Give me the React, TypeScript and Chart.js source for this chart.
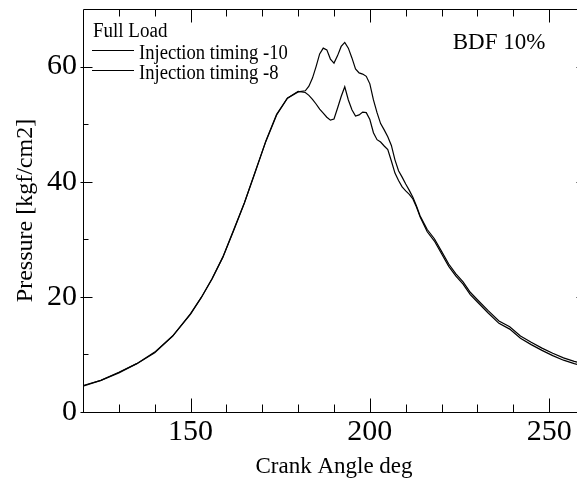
import React, { useEffect, useRef } from "react";
import { Chart, registerables } from "chart.js";

Chart.register(...registerables);

// ---- data ----
const crankAngle = [
  120, 125, 130, 135, 140, 145, 150, 153, 156, 159, 162, 165, 168, 171, 174, 177, 180,
  182, 183, 184, 185, 186, 187, 188, 189, 190, 191, 192, 193, 194, 195, 196, 197, 198, 199,
  200, 201, 202, 203, 204, 205, 206, 207, 208, 209, 210, 211, 212, 213, 214,
  216, 218, 220, 222, 224, 226, 228, 230,
  233, 236, 239, 242, 245, 248, 251, 254, 257, 260,
];

const pressureTimingMinus10 = [
  4.6, 5.5, 6.9, 8.4, 10.4, 13.2, 17.1, 19.9, 23.1, 26.9, 31.6, 36.3, 41.6, 47.1, 51.7, 54.5, 55.6,
  55.8, 56.6, 58.0, 60.0, 62.2, 63.2, 62.9, 61.3, 60.6, 61.9, 63.5, 64.2, 63.2, 61.5, 59.6, 58.9, 58.7, 58.3,
  57.0, 54.2, 52.0, 50.1, 49.0, 47.8, 46.3, 43.8, 41.9, 40.8, 39.6, 38.5, 37.3, 35.8, 34.1,
  31.7, 30.1, 27.9, 25.7, 24.0, 22.6, 20.8, 19.5,
  17.6, 15.8, 14.8, 13.2, 12.1, 11.1, 10.2, 9.4, 8.8, 8.3,
];

const pressureTimingMinus8 = [
  4.5, 5.5, 6.8, 8.4, 10.3, 13.2, 17.0, 19.9, 23.2, 26.9, 31.5, 36.3, 41.7, 47.0, 51.6, 54.5, 55.7,
  55.5, 55.0, 54.3, 53.5, 52.6, 51.9, 51.2, 50.7, 50.9, 52.8, 54.8, 56.5, 54.2, 52.5, 51.4, 51.6, 52.1, 52.0,
  50.8, 48.5, 47.3, 46.9, 46.2, 45.6, 43.6, 41.5, 40.2, 39.1, 38.4, 37.8, 37.0, 35.6, 33.9,
  31.3, 29.7, 27.5, 25.3, 23.6, 22.2, 20.4, 19.1,
  17.2, 15.4, 14.4, 12.8, 11.7, 10.7, 9.8, 9.0, 8.4, 7.9,
];

const seriesLabels = ["Injection timing -10", "Injection timing -8"];
const legendTitle = "Full Load";
const annotationText = "BDF 10%";
const xTitle = "Crank Angle deg";
const yTitle = "Pressure [kgf/cm2]";

const xRange = [120, 260];
const yRange = [0, 70];
const xMajorTicks = [150, 200, 250];
const xMinorTicks = [130, 140, 160, 170, 180, 190, 210, 220, 230, 240];
const yMajorTicks = [0, 20, 40, 60];
const yMinorTicks = [10, 30, 50];

const SERIF = '"Liberation Serif", "Times New Roman", Times, serif';

const framePlugin = {
  id: "frameTicksLegend",
  afterDatasetsDraw(chart: any) {
    const { ctx, chartArea: a, scales } = chart;
    const xs = scales.x;
    const ys = scales.y;
    const L = Math.round(a.left) + 0.5;
    const R = Math.round(a.right) + 0.5;
    const T = Math.round(a.top) + 0.5;
    const B = Math.round(a.bottom) + 0.5;
    ctx.save();
    ctx.strokeStyle = "#000";
    ctx.lineWidth = 1;
    ctx.beginPath();
    ctx.rect(L, T, R - L, B - T);
    ctx.stroke();

    ctx.beginPath();
    const xTick = (v: number, lenB: number, lenT: number) => {
      const px = Math.round(xs.getPixelForValue(v)) + 0.5;
      ctx.moveTo(px, B);
      ctx.lineTo(px, B - lenB);
      ctx.moveTo(px, T);
      ctx.lineTo(px, T + lenT);
    };
    xMajorTicks.forEach((v) => xTick(v, 14, 13));
    xMinorTicks.forEach((v) => xTick(v, 8, 7));
    const yTick = (v: number, out: number, len: number) => {
      const py = Math.round(ys.getPixelForValue(v)) + 0.5;
      ctx.moveTo(L - out, py);
      ctx.lineTo(L + len, py);
      ctx.moveTo(R - len, py);
      ctx.lineTo(R, py);
    };
    yMajorTicks.forEach((v) => yTick(v, 3, 9));
    yMinorTicks.forEach((v) => yTick(v, 0, 5));
    ctx.stroke();

    const narrowText = (text: string, x: number, y: number, sx: number) => {
      ctx.save();
      ctx.translate(x, y);
      ctx.scale(sx, 1);
      ctx.fillText(text, 0, 0);
      ctx.restore();
    };

    // legend
    const ds = chart.data.datasets;
    ctx.fillStyle = "#000";
    ctx.textAlign = "left";
    ctx.textBaseline = "alphabetic";
    ctx.font = `20px ${SERIF}`;
    narrowText(legendTitle, a.left + 10, 37, 0.95);
    const rows = [50.5, 70.5];
    ds.forEach((d: any, i: number) => {
      ctx.beginPath();
      ctx.strokeStyle = d.borderColor;
      ctx.lineWidth = d.borderWidth;
      ctx.moveTo(a.left + 9, rows[i]);
      ctx.lineTo(a.left + 51, rows[i]);
      ctx.stroke();
      narrowText(d.label, a.left + 56, rows[i] + 8, 0.93);
    });

    // annotation
    ctx.font = `23px ${SERIF}`;
    ctx.textAlign = "center";
    ctx.fillText(annotationText, 499, 49);
    ctx.restore();
  },
};

export default function App() {
  const ref = useRef<HTMLCanvasElement | null>(null);

  useEffect(() => {
    if (!ref.current) return;
    const mk = (ys: number[]) => crankAngle.map((x, i) => ({ x, y: ys[i] }));
    const chart = new Chart(ref.current, {
      type: "line",
      data: {
        datasets: [
          {
            label: seriesLabels[0],
            data: mk(pressureTimingMinus10),
            borderColor: "#000",
            borderWidth: 1.2,
            pointRadius: 0,
            tension: 0,
            fill: false,
          },
          {
            label: seriesLabels[1],
            data: mk(pressureTimingMinus8),
            borderColor: "#000",
            borderWidth: 1.2,
            pointRadius: 0,
            tension: 0,
            fill: false,
          },
        ],
      },
      options: {
        responsive: false,
        animation: false,
        devicePixelRatio: 1,
        layout: { padding: { top: 9, right: 15, left: 0, bottom: 0 } },
        plugins: { legend: { display: false }, tooltip: { enabled: false } },
        scales: {
          x: {
            type: "linear",
            min: xRange[0],
            max: xRange[1],
            grid: { display: false, drawTicks: false },
            border: { display: false },
            afterBuildTicks: (s: any) => {
              s.ticks = xMajorTicks.map((value) => ({ value }));
            },
            afterFit: (s: any) => {
              s.height = 71;
              s.paddingLeft = 0;
              s.paddingRight = 0;
            },
            ticks: {
              autoSkip: false,
              maxRotation: 0,
              padding: 2,
              color: "#000",
              font: { family: SERIF, size: 30 },
            },
            title: {
              display: true,
              text: xTitle,
              color: "#000",
              font: { family: SERIF, size: 23 },
              padding: { top: 0, bottom: 2 },
            },
          },
          y: {
            type: "linear",
            min: yRange[0],
            max: yRange[1],
            grid: { display: false, drawTicks: false },
            border: { display: false },
            afterBuildTicks: (s: any) => {
              s.ticks = yMajorTicks.map((value) => ({ value }));
            },
            afterFit: (s: any) => {
              s.width = 83;
              s.paddingTop = 0;
              s.paddingBottom = 0;
            },
            ticks: {
              autoSkip: false,
              padding: 6,
              color: "#000",
              font: { family: SERIF, size: 30 },
            },
            title: {
              display: true,
              text: yTitle,
              color: "#000",
              font: { family: SERIF, size: 24 },
              padding: { top: 11, bottom: 0 },
            },
          },
        },
      },
      plugins: [framePlugin],
    });
    return () => chart.destroy();
  }, []);

  return (
    <div
      style={{
        position: "fixed",
        left: 0,
        top: 0,
        width: 577,
        height: 483,
        overflow: "hidden",
        background: "#fff",
      }}
    >
      <canvas ref={ref} width={600} height={483} style={{ display: "block" }} />
    </div>
  );
}
